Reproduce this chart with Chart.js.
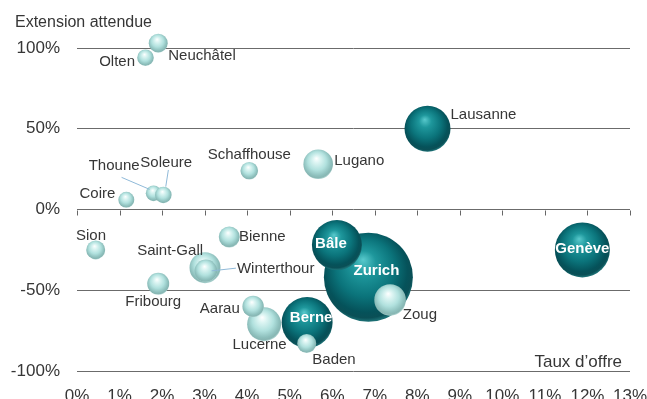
<!DOCTYPE html>
<html>
<head>
<meta charset="utf-8">
<script src="https://cdn.jsdelivr.net/npm/chart.js@4/dist/chart.umd.min.js"></script>
<style>
  html, body { margin: 0; padding: 0; background: #fff; overflow: hidden; }
  #wrap { width: 647px; height: 399px; position: relative; }
  #c { display: block; }
</style>
</head>
<body>
<div id="wrap"><canvas id="c" width="647" height="399"></canvas></div>
<script>
// Marchés de bureaux : taux d'offre (x) vs extension attendue (y), taille = volume du marché
const villes = ['Zurich', 'Bâle', 'Zoug', 'Berne', 'Baden', 'Lucerne', 'Aarau', 'Saint-Gall', 'Winterthour',
  'Genève', 'Lausanne', 'Lugano', 'Schaffhouse', 'Thoune', 'Soleure', 'Coire', 'Olten', 'Neuchâtel',
  'Sion', 'Bienne', 'Fribourg'];
const tauxOffre = [6.85, 6.11, 7.36, 5.41, 5.40, 4.40, 4.14, 3.01, 3.03,
  11.88, 8.24, 5.67, 4.05, 1.80, 2.03, 1.16, 1.61, 1.91,
  0.44, 3.58, 1.91];
const extensionAttendue = [-42, -22, -56, -70, -83, -71, -60, -36, -38,
  -25, 50, 28, 24, 10, 9, 6, 94, 103,
  -25, -17, -46];
const tailleMarche = [44.5, 25, 15.8, 25.5, 9.5, 17, 10.7, 15.5, 11.3,
  27.5, 23, 14.8, 8.8, 7.8, 8.3, 8, 8.3, 9.5,
  9.5, 10.5, 11];
const grandsCentres = ['Zurich', 'Bâle', 'Berne', 'Genève', 'Lausanne'];

const xTicks = { min: 0, max: 13, step: 1 };
const yTicks = { min: -100, max: 100, step: 50 };

// placement des étiquettes par rapport au centre de la bulle (px)
const placement = {
  'Zurich': { dx: 8, dy: -6, align: 'center', inside: true },
  'Bâle': { dx: -6, dy: -1, align: 'center', inside: true },
  'Berne': { dx: 4, dy: -5, align: 'center', inside: true },
  'Genève': { dx: 0, dy: -1, align: 'center', inside: true },
  'Lausanne': { dx: 23, dy: -14, align: 'left' },
  'Lugano': { dx: 16, dy: -3, align: 'left' },
  'Schaffhouse': { dx: 0, dy: -16, align: 'center' },
  'Thoune': { dx: -14, dy: -27, align: 'right', leader: [-32, -16, -4, -4] },
  'Soleure': { dx: -23, dy: -32.5, align: 'left', leader: [5, -25, 2.4, -8.3] },
  'Coire': { dx: -11, dy: -5.5, align: 'right' },
  'Olten': { dx: -10.5, dy: 4.5, align: 'right' },
  'Neuchâtel': { dx: 10, dy: 13, align: 'left' },
  'Sion': { dx: -4.7, dy: -14, align: 'center' },
  'Bienne': { dx: 9.7, dy: -0.5, align: 'left' },
  'Saint-Gall': { dx: -2, dy: -17, align: 'right' },
  'Winterthour': { dx: 31, dy: -2, align: 'left', leader: [5.7, 0, 30, -2.7] },
  'Fribourg': { dx: -5, dy: 18.5, align: 'center' },
  'Aarau': { dx: -13.3, dy: 2.3, align: 'right' },
  'Lucerne': { dx: -4.6, dy: 21, align: 'center' },
  'Baden': { dx: 5.6, dy: 16.7, align: 'left' },
  'Zoug': { dx: 12.7, dy: 14.7, align: 'left' }
};

const FONT = 'Liberation Sans, Arial, Helvetica, sans-serif';
const TEXT = '#363636';

function sphere(ctx) {
  const chart = ctx.chart;
  const i = ctx.dataIndex;
  const grand = i !== undefined && grandsCentres.includes(villes[i]);
  const flat = grand ? '#0b737a' : '#ace0dc';
  const xs = chart.scales.x, ys = chart.scales.y;
  if (i === undefined || !xs || !ys) return flat;
  const cx = xs.getPixelForValue(tauxOffre[i]);
  const cy = ys.getPixelForValue(extensionAttendue[i]);
  const r = tailleMarche[i];
  if (!isFinite(cx) || !isFinite(cy)) return flat;
  const g = chart.ctx.createRadialGradient(cx - 0.12 * r, cy - 0.4 * r, 0, cx - 0.04 * r, cy - 0.1 * r, r * 1.08);
  if (grand) {
    g.addColorStop(0, '#58c9cc');
    g.addColorStop(0.25, '#1e979c');
    g.addColorStop(0.6, '#0b747b');
    g.addColorStop(0.86, '#05525a');
    g.addColorStop(0.95, '#0a4f56');
    g.addColorStop(1, '#1a6d72');
  } else {
    g.addColorStop(0, '#ffffff');
    g.addColorStop(0.22, '#ddf5f3');
    g.addColorStop(0.58, '#b1e1de');
    g.addColorStop(0.86, '#8dbfbc');
    g.addColorStop(0.95, '#88b6b3');
    g.addColorStop(1, '#a6cfcc');
  }
  return g;
}

// petites graduations sur la ligne du 0 %
const zeroTicks = {
  id: 'zeroTicks',
  beforeDatasetsDraw(chart) {
    const { ctx, scales: { x, y } } = chart;
    const y0 = Math.round(y.getPixelForValue(0)) + 0.5;
    ctx.save();
    ctx.strokeStyle = '#666';
    ctx.lineWidth = 1;
    ctx.beginPath();
    x.ticks.forEach(t => {
      const px = Math.round(x.getPixelForValue(t.value)) + 0.5;
      ctx.moveTo(px, y0);
      ctx.lineTo(px, y0 + 5);
    });
    ctx.stroke();
    ctx.restore();
  }
};

// noms des villes, traits de rappel et titres d'axes
const annotations = {
  id: 'annotations',
  afterDatasetsDraw(chart) {
    const { ctx, scales: { x, y }, chartArea } = chart;
    ctx.save();
    villes.forEach((v, i) => {
      const p = placement[v];
      const cx = x.getPixelForValue(tauxOffre[i]);
      const cy = y.getPixelForValue(extensionAttendue[i]);
      if (p.leader) {
        ctx.strokeStyle = '#8fb9d8';
        ctx.lineWidth = 1;
        ctx.beginPath();
        ctx.moveTo(cx + p.leader[0], cy + p.leader[1]);
        ctx.lineTo(cx + p.leader[2], cy + p.leader[3]);
        ctx.stroke();
      }
    });
    villes.forEach((v, i) => {
      const p = placement[v];
      const cx = x.getPixelForValue(tauxOffre[i]);
      const cy = y.getPixelForValue(extensionAttendue[i]);
      ctx.textAlign = p.align;
      ctx.textBaseline = 'middle';
      if (p.inside) {
        ctx.font = 'bold 15px ' + FONT;
        ctx.fillStyle = '#ffffff';
      } else {
        ctx.font = '15px ' + FONT;
        ctx.fillStyle = TEXT;
      }
      ctx.fillText(v, cx + p.dx, cy + p.dy);
    });
    ctx.fillStyle = TEXT;
    ctx.textBaseline = 'alphabetic';
    ctx.font = '16px ' + FONT;
    ctx.textAlign = 'left';
    ctx.fillText('Extension attendue', 15, 26.5);
    ctx.font = '17px ' + FONT;
    ctx.textAlign = 'right';
    ctx.fillText('Taux d\u2019offre', chartArea.right - 8, chartArea.bottom - 4.5);
    ctx.restore();
  }
};

function noOverflow(s) {
  s.paddingLeft = 0; s.paddingRight = 0; s.paddingTop = 0; s.paddingBottom = 0;
}

new Chart(document.getElementById('c'), {
  type: 'bubble',
  data: {
    datasets: [{
      data: villes.map((v, i) => ({ x: tauxOffre[i], y: extensionAttendue[i], r: tailleMarche[i] })),
      backgroundColor: sphere,
      borderWidth: 0,
      hoverBorderWidth: 0,
      hoverRadius: 0,
      clip: false
    }]
  },
  options: {
    responsive: false,
    animation: false,
    events: [],
    layout: { autoPadding: false, padding: { top: 48, right: 17, left: 0, bottom: 0 } },
    plugins: { legend: { display: false }, tooltip: { enabled: false } },
    scales: {
      x: {
        type: 'linear',
        min: xTicks.min, max: xTicks.max,
        ticks: {
          stepSize: xTicks.step, autoSkip: false, maxRotation: 0, padding: 7,
          color: TEXT, font: { family: FONT, size: 17 },
          callback: v => v + '%'
        },
        grid: { display: false },
        border: { display: false },
        afterFit: s => { s.height = 28; noOverflow(s); }
      },
      y: {
        type: 'linear',
        min: yTicks.min, max: yTicks.max,
        ticks: {
          stepSize: yTicks.step, padding: 17,
          color: TEXT, font: { family: FONT, size: 17 },
          callback: v => v + '%'
        },
        grid: { color: '#6b6b6b', lineWidth: 1, drawTicks: false },
        border: { display: false },
        afterFit: s => { s.width = 77; noOverflow(s); }
      }
    }
  },
  plugins: [zeroTicks, annotations]
});
</script>
</body>
</html>
